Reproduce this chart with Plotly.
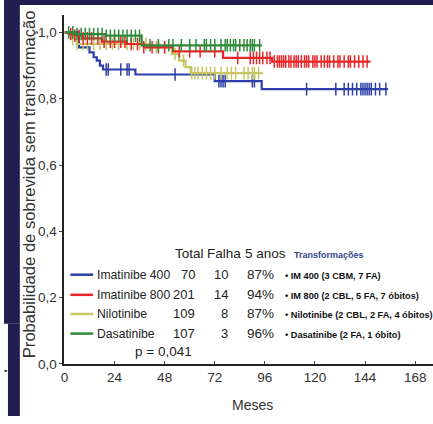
import plotly.graph_objects as go

W, H = 433, 424

# ---- data ----
groups = ["Imatinibe 400", "Imatinibe 800", "Nilotinibe", "Dasatinibe"]
totals = [70, 201, 109, 107]
falhas = [10, 14, 8, 3]
five_years = ["87%", "94%", "87%", "96%"]
transformacoes = [
    "• IM 400 (3 CBM, 7 FA)",
    "• IM 800 (2 CBL, 5 FA, 7 óbitos)",
    "• Nilotinibe (2 CBL, 2 FA, 4 óbitos)",
    "• Dasatinibe (2 FA, 1 óbito)",
]
colors = ["#2d3fa8", "#e8262a", "#c8c663", "#2f8a3b"]

blue_t = [0, 7, 12, 14, 15.5, 17, 18.5, 34, 72, 94.5]
blue_s = [1.0, 0.955, 0.94, 0.925, 0.915, 0.90, 0.888, 0.873, 0.853, 0.829]
blue_end = 155
blue_cens = [20, 21, 27, 30, 31, 53, 74, 75, 76, 77, 90, 91, 116, 130, 134, 136,
             138, 140, 142, 143, 144, 145, 146, 147, 149, 151, 154]

red_t = [0, 2, 5, 9, 18, 30, 38, 52, 76, 99.5]
red_s = [1.0, 0.995, 0.99, 0.982, 0.972, 0.965, 0.955, 0.943, 0.923, 0.912]
red_end = 146.6
red_cens = [3, 5, 7, 9, 11, 13, 16, 19, 22, 24, 27, 29, 32, 35, 38, 42, 45, 48, 55,
            60, 65, 72, 83, 89, 90.5, 92, 93.5, 95, 97, 98.5, 100.5, 102, 103, 104,
            105, 106, 107.5, 108.5, 110, 111, 112, 113.5, 115, 116, 117, 119, 120,
            121, 123, 124.5, 126, 127, 129, 131, 132, 134, 136, 137, 139, 141, 143, 145]

yel_t = [0, 3, 6, 41, 51.5, 55, 58, 60.5]
yel_s = [1.0, 0.98, 0.965, 0.955, 0.935, 0.915, 0.895, 0.877]
yel_end = 95
yel_cens = [4, 6, 9, 11, 14, 17, 20, 23, 26, 30, 33, 36, 39, 44, 48, 53, 57, 61,
            62.5, 64, 66, 68, 70, 72, 75, 78, 80, 82, 86, 88, 90, 91, 93]

grn_t = [0, 5, 20, 37]
grn_s = [1.0, 0.995, 0.99, 0.961]
grn_end = 94.5
grn_cens = [2, 4, 6, 8, 10, 12, 14, 16, 18, 20, 22, 24, 26, 28, 30, 32, 34, 36, 41,
            45, 50, 52, 56, 60, 63, 67, 68, 70, 72, 75, 77, 78, 79.5, 81, 82, 84, 86,
            87.5, 89, 90, 91, 93.5]

x_ticks = [0, 24, 48, 72, 96, 120, 144, 168]
y_ticks = [0.0, 0.2, 0.4, 0.6, 0.8, 1.0]
y_ticktext = ["0,0", "0,2", "0,4", "0,6", "0,8", "1,0"]

FONT = "Liberation Sans, Arial, sans-serif"
BOLD = "Liberation Sans, Arial, sans-serif"


def px(x):
    return x / W


def py(y):
    return 1 - y / H


def step_at(times, surv, t):
    v = surv[0]
    for ti, si in zip(times, surv):
        if ti <= t:
            v = si
    return v


fig = go.Figure()

series = [
    (blue_t, blue_s, blue_end, blue_cens, colors[0]),
    (yel_t, yel_s, yel_end, yel_cens, colors[2]),
    (red_t, red_s, red_end, red_cens, colors[1]),
    (grn_t, grn_s, grn_end, grn_cens, colors[3]),
]
for t, s, end, cens, c in series:
    fig.add_trace(go.Scatter(
        x=list(t) + [end], y=list(s) + [s[-1]], mode="lines",
        line=dict(color=c, width=2.2, shape="hv"), showlegend=False, hoverinfo="skip"))
    fig.add_trace(go.Scatter(
        x=cens, y=[step_at(t, s, ci) for ci in cens], mode="markers",
        marker=dict(symbol="line-ns", size=9, line=dict(color=c, width=1.5)),
        showlegend=False, hoverinfo="skip"))

ann = []


def add_text(x, y, text, anchor, size, family=FONT, color="#222", weight="normal", angle=0):
    ann.append(dict(x=px(x), y=py(y), xref="paper", yref="paper", text=text, showarrow=False,
                    xanchor=anchor, yanchor="middle", textangle=angle,
                    font=dict(family=family, size=size, color=color, weight=weight)))


add_text(26, 188, "Probabilidade de sobrevida sem transformação", "center", 16.6,
         color="#333", angle=-90)
add_text(251, 413, "Meses", "center", 14, color="#333")
for txt, xc in [("Total", 187), ("Falha", 222), ("5 anos", 264)]:
    add_text(xc, 258, txt, "center", 13.5)

row_y = [280, 300.5, 320, 340]
shapes = []
for i, g in enumerate(groups):
    yy = row_y[i]
    shapes.append(dict(type="line", xref="paper", yref="paper", x0=px(67), x1=px(90),
                       y0=py(yy), y1=py(yy), line=dict(color=colors[i], width=2.5)))
    add_text(91.5, yy, g, "left", 12.2)
    add_text(195, yy, str(totals[i]), "right", 13)
    add_text(228, yy, str(falhas[i]), "right", 13)
    add_text(275, yy, five_years[i], "right", 13.5)
    add_text(282, yy + 1.5, transformacoes[i], "left", 9.2, family=BOLD, color="#111",
             weight="bold")
add_text(291, 260, "Transformações", "left", 9, family=BOLD, color="#34458a", weight="bold")
add_text(161, 358, "p = 0,041", "center", 13.5)

# dark frame
shapes.append(dict(type="rect", xref="paper", yref="paper", x0=0, x1=px(16), y0=py(330), y1=1,
                   fillcolor="#221d50", line=dict(width=0), layer="below"))
shapes.append(dict(type="rect", xref="paper", yref="paper", x0=px(4), x1=px(16), y0=0, y1=py(330),
                   fillcolor="#221d50", line=dict(width=0), layer="below"))
shapes.append(dict(type="rect", xref="paper", yref="paper", x0=0, x1=1, y0=py(5), y1=1,
                   fillcolor="#221d50", line=dict(width=0), layer="below"))
shapes.append(dict(type="line", xref="paper", yref="paper", x0=px(0.5), x1=px(3), y0=py(378),
                   y1=py(378), line=dict(color="#333", width=2)))

fig.update_layout(
    width=W, height=H, margin=dict(l=0, r=0, t=0, b=0),
    paper_bgcolor="white", plot_bgcolor="white",
    xaxis=dict(domain=[px(61), 1], range=[0, (W - 61) / 2.107], tickvals=x_ticks,
               ticktext=[str(v) for v in x_ticks], showline=True, linecolor="#222",
               linewidth=2, ticks="inside", ticklen=3, tickcolor="#444", showgrid=False,
               zeroline=False, tickfont=dict(family=FONT, size=13.5, color="#333")),
    yaxis=dict(domain=[1 - 371 / H, 1 - 15 / H], range=[0, 356 / 338], tickvals=y_ticks,
               ticktext=y_ticktext, showline=True, linecolor="#222", linewidth=2,
               ticks="outside", ticklen=3, tickcolor="#444", showgrid=False, zeroline=False,
               tickfont=dict(family=FONT, size=13.5, color="#333")),
    annotations=ann, shapes=shapes, showlegend=False,
)
fig.write_html("out.html", config={"displayModeBar": False},
               post_script="document.body.style.margin='0';document.body.style.overflow='hidden';")
